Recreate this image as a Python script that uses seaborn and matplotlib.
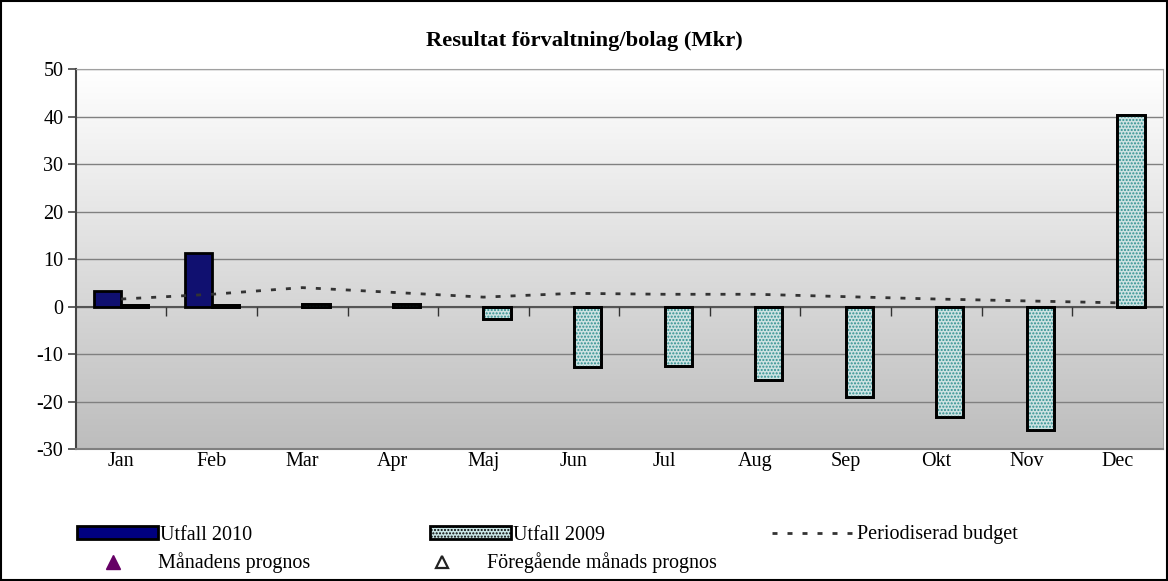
import numpy as np
import pandas as pd
import matplotlib
matplotlib.use("Agg")
import matplotlib.pyplot as plt
import seaborn as sns
from matplotlib.colors import LinearSegmentedColormap
from matplotlib.patches import Rectangle, Patch
from matplotlib.lines import Line2D

months = ['Jan', 'Feb', 'Mar', 'Apr', 'Maj', 'Jun', 'Jul', 'Aug', 'Sep', 'Okt', 'Nov', 'Dec']
utfall_2010 = [3.2, 11.2, np.nan, np.nan, np.nan, np.nan, np.nan, np.nan, np.nan, np.nan, np.nan, np.nan]
utfall_2009 = [0.3, 0.4, 0.6, 0.6, -2.7, -12.8, -12.5, -15.5, -19.0, -23.2, -26.0, 40.3]
budget = [1.6, 2.6, 4.0, 3.0, 2.0, 2.8, 2.6, 2.6, 2.1, 1.6, 1.2, 0.8]

df = pd.DataFrame({
    'month': months * 2,
    'serie': ['Utfall 2010'] * 12 + ['Utfall 2009'] * 12,
    'value': utfall_2010 + utfall_2009,
})

plt.rcParams['font.family'] = ['Liberation Serif', 'DejaVu Serif']
plt.rcParams['axes.unicode_minus'] = False

NAVY = '#000080'
TEAL_BG = '#c9e6e6'
TEAL_DOT = '#2f9090'
DASH = (0, (1.8, 3.6))

fig = plt.figure(figsize=(11.68, 5.81), dpi=100)
ax = fig.add_axes([0.065, 0.227, 0.9305, 0.654])

# gradient background
cmap = LinearSegmentedColormap.from_list('bg', ['#ffffff', '#bdbdbd'])
ax.imshow(np.linspace(0, 1, 256).reshape(-1, 1), cmap=cmap, aspect='auto',
          extent=[-0.5, 11.5, -30, 50], zorder=0)

sns.barplot(data=df, x='month', y='value', hue='serie', order=months,
            hue_order=['Utfall 2010', 'Utfall 2009'],
            palette={'Utfall 2010': NAVY, 'Utfall 2009': TEAL_BG},
            width=0.6, edgecolor='black', linewidth=2, legend=False, ax=ax, zorder=3)

# dotted pattern on 2009 bars
for bar in ax.containers[1]:
    ax.add_patch(Rectangle(bar.get_xy(), bar.get_width(), bar.get_height(),
                           facecolor='none', edgecolor=TEAL_DOT, hatch='.....',
                           linewidth=0, zorder=3.5))
    ax.add_patch(Rectangle(bar.get_xy(), bar.get_width(), bar.get_height(),
                           facecolor='none', edgecolor='black', linewidth=2, zorder=3.6))

sns.lineplot(x=months, y=budget, ax=ax, color='#333333', linewidth=2,
             linestyle=DASH, sort=False, zorder=4)

ax.set_xlim(-0.5, 11.5)
ax.set_ylim(-30, 50)
ax.set_yticks(range(-30, 51, 10))
ax.grid(axis='y', color='#808080', linewidth=1)
for line in ax.get_ygridlines():
    line.set_zorder(1)
ax.axhline(0, color='#555555', linewidth=1.5, zorder=2)
ax.vlines(np.arange(11) + 0.5, -2, 0, color='#333333', linewidth=1, zorder=2)

for s in ['top', 'right']:
    ax.spines[s].set_color('#a0a0a0')
ax.spines['bottom'].set_color('#808080')
ax.spines['bottom'].set_linewidth(1.5)
ax.spines['left'].set_color('#444444')
ax.spines['left'].set_linewidth(1.5)
ax.tick_params(axis='x', length=0, pad=2, labelsize=14.5)
ax.tick_params(axis='y', length=6, width=1.2, color='#444444', pad=3, labelsize=14.5)
ax.set_xlabel('')
ax.set_ylabel('')

fig.text(0.5, 0.93, 'Resultat förvaltning/bolag (Mkr)', ha='center', va='center',
         fontsize=16.2, fontweight='bold')

# legend, one entry at a time to place them like the original
fs = 14.5
row1_y = 1 - 535 / 581
row2_y = 1 - 563 / 581
entries = [
    (Patch(facecolor=NAVY, edgecolor='black', linewidth=2, label='Utfall 2010'),
     77, row1_y, 4.0, 0.1),
    (Patch(facecolor=TEAL_BG, edgecolor='black', linewidth=2, hatch='.....',
           label='Utfall 2009'), 430, row1_y, 4.0, 0.1),
    (Line2D([], [], color='#333333', linewidth=2, linestyle=DASH,
            label='Periodiserad budget'), 772, row1_y, 4.1, 0.1),
    (Line2D([], [], marker='^', color='none', markerfacecolor='#660066',
            markeredgecolor='#660066', markersize=10, label='Månadens prognos'),
     77, row2_y, 3.6, 0.4),
    (Line2D([], [], marker='^', color='none', markerfacecolor='none',
            markeredgecolor='#222222', markeredgewidth=1.6, markersize=9,
            label='Föregående månads prognos'), 406, row2_y, 3.6, 0.4),
]
for h, x, y, hl, tp in entries:
    fig.legend(handles=[h], loc='center left', bbox_to_anchor=(x / 1168, y),
               frameon=False, fontsize=fs, handlelength=hl, handleheight=0.6,
               handletextpad=tp, borderpad=0, borderaxespad=0)

fig.patches.append(Rectangle((0.001, 0.001), 0.998, 0.997, transform=fig.transFigure,
                             fill=False, edgecolor='black', linewidth=1.5))

fig.savefig('out.png', dpi=100)
